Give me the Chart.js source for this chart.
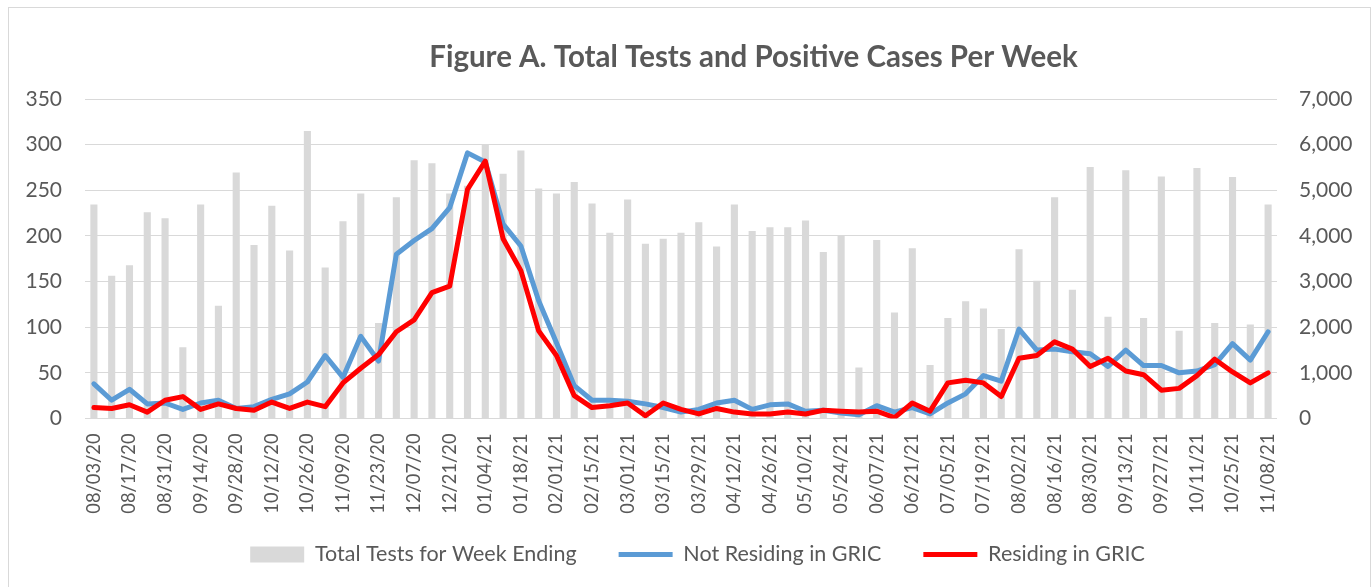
<!DOCTYPE html>
<html><head><meta charset="utf-8">
<script src="https://cdn.jsdelivr.net/npm/chart.js@4/dist/chart.umd.min.js"></script>
<style>
html,body{margin:0;padding:0;background:#fff;}
#wrap{position:relative;width:1371px;height:587px;overflow:hidden;}
#frame{position:absolute;left:8px;top:7px;width:1363px;height:600px;border:1px solid #d9d9d9;box-sizing:border-box;pointer-events:none;}
canvas{position:absolute;left:0;top:0;}
</style></head><body>
<div id="wrap"><canvas id="c" width="1371" height="587"></canvas><div id="frame"></div></div>
<script>
const weekEnding = [
 "08/03/20","08/10/20","08/17/20","08/24/20","08/31/20","09/07/20","09/14/20","09/21/20","09/28/20","10/05/20","10/12/20","10/19/20","10/26/20","11/02/20","11/09/20","11/16/20","11/23/20","11/30/20","12/07/20","12/14/20","12/21/20","12/28/20",
 "01/04/21","01/11/21","01/18/21","01/25/21","02/01/21","02/08/21","02/15/21","02/22/21","03/01/21","03/08/21","03/15/21","03/22/21","03/29/21","04/05/21","04/12/21","04/19/21","04/26/21","05/03/21","05/10/21","05/17/21","05/24/21","05/31/21","06/07/21","06/14/21","06/21/21","06/28/21","07/05/21","07/12/21","07/19/21","07/26/21","08/02/21","08/09/21","08/16/21","08/23/21","08/30/21","09/06/21","09/13/21","09/20/21","09/27/21","10/04/21","10/11/21","10/18/21","10/25/21","11/01/21","11/08/21"
];
const totalTests = [
 4690,3130,3360,4520,4390,1560,4690,2470,5390,3800,4660,3680,6300,3310,4320,4930,2090,4850,5660,5590,4930,5100,
 6000,5360,5870,5040,4930,5180,4710,4070,4800,3830,3940,4070,4300,3770,4690,4110,4190,4190,4340,3650,4010,1120,3910,2320,3730,1170,2200,2570,2410,1960,3710,3020,4850,2820,5510,2230,5440,2200,5300,1920,5490,2090,5290,2060,4690
];
const notResiding = [
 38,20,32,16,17,10,17,20,11,13,21,27,40,69,45,90,63,180,195,208,231,291,
 281,213,189,129,83,36,20,20,19,16,12,7,10,17,20,10,15,16,8,9,6,4,14,7,12,5,17,27,47,41,98,75,76,73,71,57,75,58,58,50,52,59,82,64,95
];
const residing = [
 12,11,15,7,20,24,10,16,11,9,18,11,18,13,39,55,70,95,108,138,145,251,
 282,197,162,96,69,25,12,14,17,3,17,10,5,11,7,5,5,7,5,9,8,7,8,1,17,8,39,42,39,24,66,69,84,76,57,66,52,48,31,33,47,65,51,39,50
];
const leftTicks = [0,50,100,150,200,250,300,350];
const rightTicks = [0,1000,2000,3000,4000,5000,6000,7000];

Chart.defaults.font.family = 'Lato';
Chart.defaults.color = '#595959';

const shiftPlugin = {
  id: 'shift',
  afterLayout(chart) {
    const t = chart.titleBlock;
    if (t) { t.left += 68; t.right += 68; }
    const l = chart.legend;
    if (l) {
      l.left += 12; l.right += 12;
      const h = l.height;
      l.top = 501.8; l.bottom = l.top + h;
    }
  }
};

new Chart(document.getElementById('c'), {
  type: 'bar',
  data: {
    labels: weekEnding,
    datasets: [
      { type:'bar', label:'Total Tests for Week Ending', data: totalTests, yAxisID:'y1',
        backgroundColor:'#d9d9d9', borderWidth:0, barPercentage:0.4, categoryPercentage:1.0,
        pointStyle:'rect', order:3 },
      { type:'line', label:'Not Residing in GRIC', data: notResiding, yAxisID:'y',
        borderColor:'#5b9bd5', backgroundColor:'#5b9bd5', borderWidth:5, pointRadius:0,
        tension:0, borderJoinStyle:'round', borderCapStyle:'round', pointStyle:'line', order:2 },
      { type:'line', label:'Residing in GRIC', data: residing, yAxisID:'y',
        borderColor:'#ff0000', backgroundColor:'#ff0000', borderWidth:5, pointRadius:0,
        tension:0, borderJoinStyle:'round', borderCapStyle:'round', pointStyle:'line', order:1 }
    ]
  },
  options: {
    responsive:false, animation:false, devicePixelRatio:1,
    layout:{ padding:{ top:0, left:0, right:0, bottom:0 } },
    plugins:{
      title:{ display:true, text:'Figure A. Total Tests and Positive Cases Per Week',
        color:'#595959', font:{ family:'Lato', size:29.5, weight:'bold', lineHeight:1.2 },
        padding:{ top:39.3, bottom:24.3 } },
      legend:{ position:'bottom',
        labels:{ usePointStyle:true, pointStyleWidth:54, boxHeight:16, padding:42,
          color:'#595959', font:{ family:'Lato', size:21.5 },
          sort:(a,b)=>a.datasetIndex-b.datasetIndex } },
      tooltip:{ enabled:false }
    },
    scales:{
      x:{ grid:{ display:false, drawTicks:false }, border:{ display:false },
        ticks:{ autoSkip:false, maxRotation:90, minRotation:90, padding:15, color:'#595959',
          font:{ family:'Lato', size:18.3 },
          callback:(v,i)=> i%2===0 ? weekEnding[i] : '' },
        afterFit(s){ s.height = 95; } },
      y:{ position:'left', min:0, max:350,
        afterBuildTicks(s){ s.ticks = leftTicks.map(v=>({value:v})); },
        ticks:{ color:'#595959', padding:23, font:{ family:'Lato', size:21 } },
        grid:{ color:'#d9d9d9', lineWidth:1, drawTicks:false }, border:{ display:false },
        afterFit(s){ s.width = 85; } },
      y1:{ position:'right', min:0, max:7000,
        afterBuildTicks(s){ s.ticks = rightTicks.map(v=>({value:v})); },
        ticks:{ color:'#595959', padding:22, font:{ family:'Lato', size:21 },
          callback:v=>v.toLocaleString('en-US') },
        grid:{ display:false, drawTicks:false }, border:{ display:false },
        afterFit(s){ s.width = 94; } }
    }
  },
  plugins:[shiftPlugin]
});
</script>
</body></html>
